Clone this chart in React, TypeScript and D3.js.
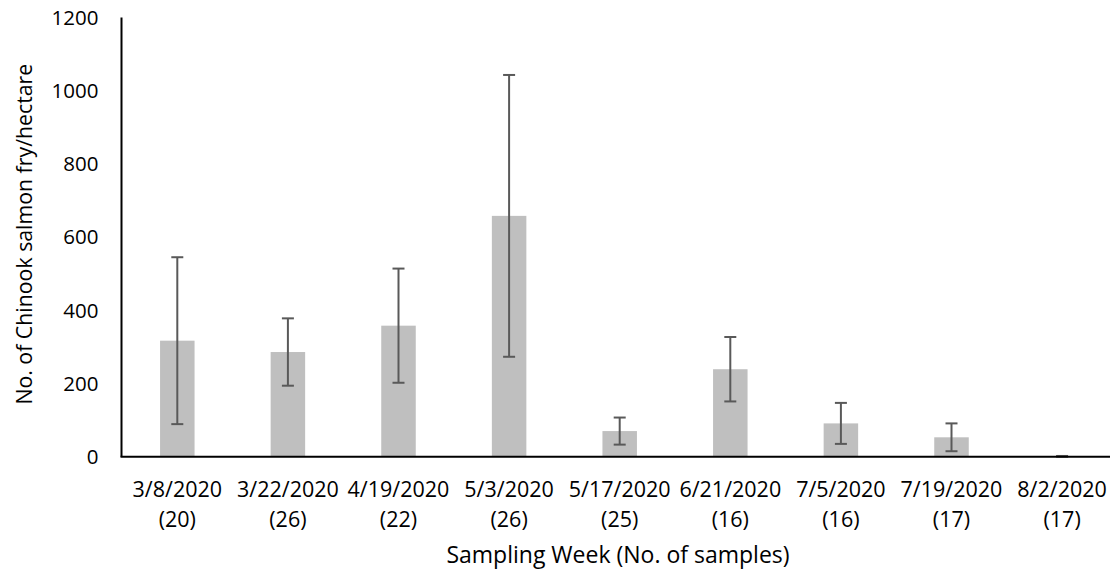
import React from "react";
import * as d3 from "d3";

const categories = ["3/8/2020", "3/22/2020", "4/19/2020", "5/3/2020", "5/17/2020", "6/21/2020", "7/5/2020", "7/19/2020", "8/2/2020"];
const sampleCounts = ["(20)", "(26)", "(22)", "(26)", "(25)", "(16)", "(16)", "(17)", "(17)"];
const means = [317, 286, 358, 658, 70, 239, 91, 53, 1];
const errors = [228, 92, 156, 385, 37, 88, 56, 38, 1];
const yTicks = [0, 200, 400, 600, 800, 1000, 1200];

const W = 1110;
const H = 571;
const FONT = "'Open Sans', sans-serif";

export default function App() {
  const x = d3.scaleBand<number>().domain(d3.range(categories.length)).range([122, 1117.4]).paddingInner(0).paddingOuter(0);
  const y = d3.scaleLinear().domain([0, 1200]).range([456.7, 17.5]);
  const bw = 34.5;
  const capW = 12;
  return (
    <svg width={W} height={H} style={{ position: "fixed", left: 0, top: 0, background: "#fff" }} fontFamily={FONT}>
      <rect x={0} y={0} width={W} height={H} fill="#fff" />
      {means.map((m, i) => {
        const cx = (x(i) as number) + x.bandwidth() / 2;
        return (
          <rect key={"b" + i} x={cx - bw / 2} y={y(m)} width={bw} height={y(0) - y(m)} fill="#bfbfbf" />
        );
      })}
      {means.map((m, i) => {
        const cx = (x(i) as number) + x.bandwidth() / 2;
        const hi = y(m + errors[i]);
        const lo = y(Math.max(0, m - errors[i]));
        return (
          <g key={"e" + i} stroke="#595959" strokeWidth={2}>
            <line x1={cx} x2={cx} y1={hi} y2={lo} />
            <line x1={cx - capW / 2} x2={cx + capW / 2} y1={hi} y2={hi} />
            <line x1={cx - capW / 2} x2={cx + capW / 2} y1={lo} y2={lo} />
          </g>
        );
      })}
      <line x1={121.5} x2={121.5} y1={y(1200)} y2={y(0)} stroke="#000" strokeWidth={2} />
      <line x1={120.5} x2={1117.4} y1={y(0)} y2={y(0)} stroke="#000" strokeWidth={2} />
      {yTicks.map((t) => (
        <text key={"t" + t} x={98.5} y={y(t)} dy="0.36em" textAnchor="end" fontSize={20.5} fill="#000">
          {t}
        </text>
      ))}
      {categories.map((c, i) => {
        const cx = (x(i) as number) + x.bandwidth() / 2;
        return (
          <g key={"c" + i}>
            <text x={cx} y={496.5} textAnchor="middle" fontSize={21.5} fill="#000">{c}</text>
            <text x={cx} y={527} textAnchor="middle" fontSize={21.5} fill="#000">{sampleCounts[i]}</text>
          </g>
        );
      })}
      <text x={618} y={562.5} textAnchor="middle" fontSize={23} fill="#000">Sampling Week (No. of samples)</text>
      <text transform={`translate(31.5, ${y(608)}) rotate(-90)`} textAnchor="middle" fontSize={21.3} fill="#000">
        No. of Chinook salmon fry/hectare
      </text>
    </svg>
  );
}
